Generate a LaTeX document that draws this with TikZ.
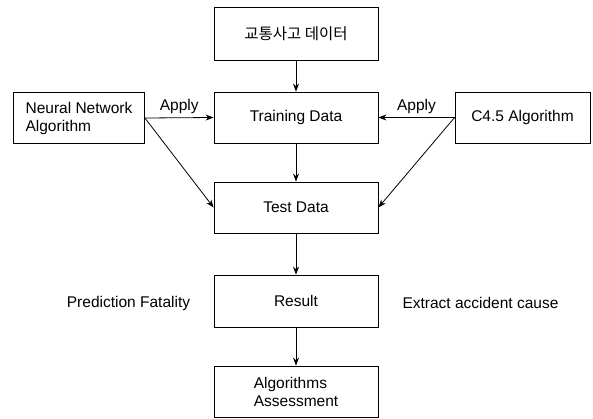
\documentclass[tikz,border=0pt]{standalone}
\usepackage{fontspec}
\setmainfont{Liberation Sans}
\newfontfamily\krfont{Noto Sans CJK KR}
\usetikzlibrary{arrows.meta}

\begin{document}
\begin{tikzpicture}[x=1pt,y=-1pt,
    box/.style={draw,thick,minimum width=164pt,minimum height=51pt,inner sep=2pt,
      font=\fontsize{15.5}{18}\selectfont},
    algbox/.style={box,minimum width=131pt,align=left},
    note/.style={font=\fontsize{15.5}{18}\selectfont},
    flow/.style={-{Stealth[length=8pt,width=6pt]},thick}]
\useasboundingbox (0,0) rectangle (593,418);
\node[box,minimum height=53pt] (data) at (296,33.5) {\krfont 교통사고 데이터};
\node[box] (train) at (296,117.5) {Training Data};
\node[algbox] (nn) at (79,118) {Neural Network\\Algorithm};
\node[algbox,minimum width=135pt] (c45) at (522.5,117.5) {C4.5 Algorithm};
\node[box] (test) at (296,207.5) {Test Data};
\node[box,minimum height=52pt] (result) at (296,301) {Result};
\node[box,align=left] (assess) at (296,391.5) {Algorithms\\Assessment};
\node[note] (pred) at (128.5,303) {Prediction Fatality};
\node[note] (cause) at (480.5,303) {Extract accident cause};
\draw[flow] (data) -- (train);
\draw[flow] (nn.east) -- node[note,above] {Apply} (train.west);
\draw[flow] (c45.west) -- node[note,above] {Apply} (train.east);
\draw[flow] (nn.east) -- (test.west);
\draw[flow] (c45.west) -- (test.east);
\draw[flow] (train) -- (test);
\draw[flow] (test) -- (result);
\draw[flow] (result) -- (assess);
\end{tikzpicture}
\end{document}
